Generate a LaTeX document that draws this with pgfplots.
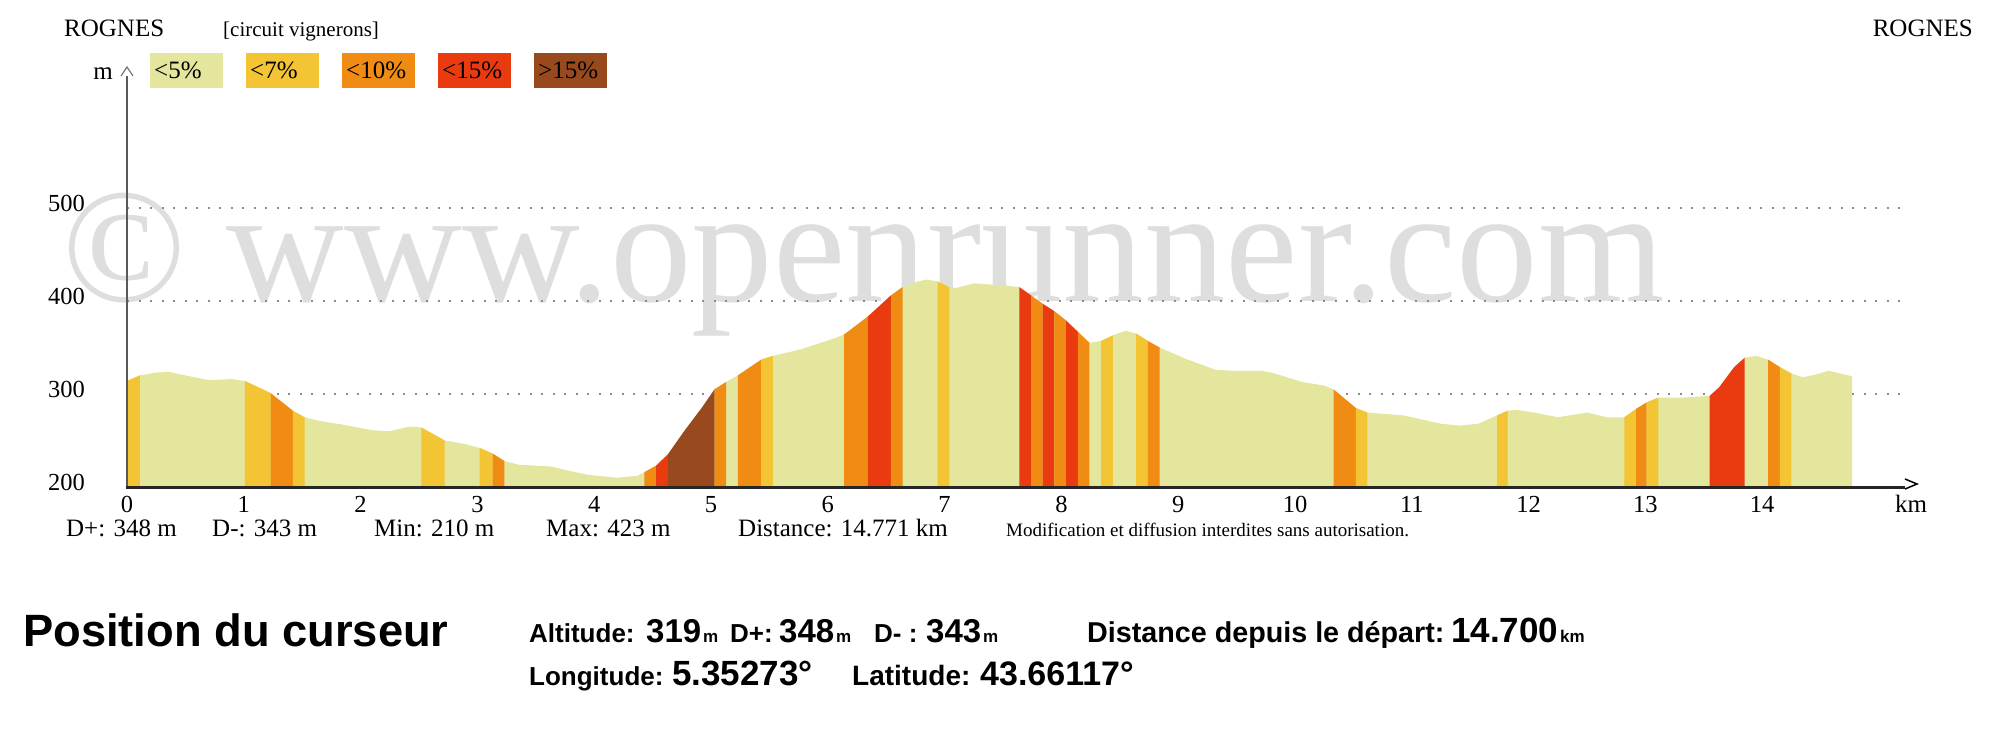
\documentclass[border=0pt]{standalone}
\usepackage{fontspec}
\setmainfont{Liberation Serif}
\newfontfamily\arial{Liberation Sans}
\usepackage{pgfplots}
\usepackage{pgfplotstable}
\pgfplotsset{compat=1.18}
\definecolor{cA}{HTML}{E3E69C}
\definecolor{cB}{HTML}{F3C434}
\definecolor{cC}{HTML}{F08C14}
\definecolor{cD}{HTML}{E93A10}
\definecolor{cE}{HTML}{984A1E}
\newcommand\fs[1]{\fontsize{#1bp}{#1bp}\selectfont}

\pgfplotstableread{
km alt
0.00 314
0.11 320
0.25 323
0.35 324
0.50 320
0.70 315
0.90 316
1.01 314
1.23 301
1.42 282
1.52 275
1.65 271
1.85 267
2.10 261
2.25 260
2.42 265
2.52 264
2.72 250
2.90 246
3.02 242
3.13 236
3.23 228
3.35 224
3.63 222
3.80 217
3.95 213
4.20 210
4.37 212
4.43 216
4.53 223
4.63 235
4.77 260
4.92 285
5.03 305
5.13 313
5.23 320
5.43 337
5.53 341
5.77 348
6.06 360
6.14 364
6.34 383
6.54 406
6.64 415
6.77 421
6.85 423
6.94 421
7.04 415
7.10 414
7.25 419
7.48 417
7.64 415
7.74 406
7.84 397
7.94 389
8.04 379
8.14 367
8.24 355
8.34 357
8.44 363
8.55 368
8.64 365
8.74 357
8.84 350
9.06 338
9.32 326
9.48 325
9.71 325
9.80 323
10.06 313
10.25 309
10.33 305
10.52 285
10.62 280
10.93 277
11.25 268
11.41 266
11.57 268
11.73 277
11.82 282
11.89 283
12.05 280
12.25 275
12.50 280
12.67 275
12.82 275
12.92 284
13.01 291
13.11 296
13.30 296
13.55 298
13.63 307
13.76 329
13.85 339
13.95 341
14.05 337
14.15 329
14.25 322
14.35 318
14.46 321
14.57 325
14.77 319
}\profile

\newcommand\band[3]{\addplot[draw=none, fill=#1, restrict x to domain=#2:#3] table[x=km,y=alt] {\profile} \closedcycle;}

\begin{document}
\begin{tikzpicture}[x=1bp,y=1bp]
\fill[white] (0,0) rectangle (2000,-730);
% watermark
\node[anchor=base west, inner sep=0, text=black!13] at (62,-301) {\fs{163}© www.openrunner.com};

\begin{axis}[
  at={(127bp,-487bp)}, anchor=south west,
  x=116.8bp, y=0.93bp,
  xmin=0, xmax=15.21, ymin=200, ymax=642,
  axis line style={draw=none},
  tick style={draw=none}, major tick length=0pt,
  xtick={0,...,14}, ytick={200,300,400,500},
  ymajorgrids,
  grid style={draw=black!45, line width=2bp, dash pattern=on 2bp off 9.5bp},
  /pgf/number format/assume math mode=true,
  xticklabel style={font=\fs{24.5}, anchor=base, inner sep=0pt, yshift=-25bp},
  yticklabel style={font=\fs{24.5}, anchor=base east, inner sep=0pt, xshift=-42bp, yshift=-3bp},
]
\addplot[draw=none, fill=cA] table[x=km,y=alt] {\profile} \closedcycle;
\band{cB}{-0.005}{0.115}
\band{cB}{1.005}{1.235}
\band{cC}{1.225}{1.425}
\band{cB}{1.415}{1.525}
\band{cB}{2.515}{2.725}
\band{cB}{3.015}{3.135}
\band{cC}{3.125}{3.235}
\band{cC}{4.425}{4.535}
\band{cD}{4.525}{4.635}
\band{cE}{4.625}{5.035}
\band{cC}{5.025}{5.135}
\band{cC}{5.225}{5.435}
\band{cB}{5.425}{5.535}
\band{cC}{6.135}{6.345}
\band{cD}{6.335}{6.545}
\band{cC}{6.535}{6.645}
\band{cB}{6.935}{7.045}
\band{cD}{7.635}{7.745}
\band{cC}{7.735}{7.845}
\band{cD}{7.835}{7.945}
\band{cC}{7.935}{8.045}
\band{cD}{8.035}{8.145}
\band{cC}{8.135}{8.245}
\band{cB}{8.335}{8.445}
\band{cB}{8.635}{8.745}
\band{cC}{8.735}{8.845}
\band{cC}{10.325}{10.525}
\band{cB}{10.515}{10.625}
\band{cB}{11.725}{11.825}
\band{cB}{12.815}{12.925}
\band{cC}{12.915}{13.015}
\band{cB}{13.005}{13.115}
\band{cD}{13.545}{13.855}
\band{cC}{14.045}{14.155}
\band{cB}{14.145}{14.255}
\end{axis}

% axis lines
\draw[line width=2.5, black!65] (127,-488) -- (127,-76);
\draw[line width=1.2, black!55] (121,-76) -- (127,-67) -- (133,-76);
\draw[line width=3, black!85] (125.5,-487.5) -- (1905,-487.5);
\draw[line width=1.5, black] (1905,-479) -- (1917,-484) -- (1905,-489);
\node[anchor=base west, inner sep=0] at (1895,-512) {\fs{25}km};
\node[anchor=base east, inner sep=0] at (113,-80) {\fs{25}m};

% header
\node[anchor=base west, inner sep=0] at (64,-37) {\fs{25}ROGNES};
\node[anchor=base west, inner sep=0] at (223,-37) {\fs{21}[circuit vignerons]};
\node[anchor=base east, inner sep=0] at (1973,-37) {\fs{25}ROGNES};

% legend boxes
\foreach \xx/\cc/\tt in {150/cA/{<5\%}, 246/cB/{<7\%}, 342/cC/{<10\%}, 438/cD/{<15\%}, 534/cE/{>15\%}}{
  \fill[\cc] (\xx,-53) rectangle ++(73,-35);
  \node[anchor=base west, inner sep=0] at (\xx+4,-79) {\fs{25}\tt};
}

% stats line
\node[anchor=base west, inner sep=0] at (66,-536) {\fs{25}D+: 348 m};
\node[anchor=base west, inner sep=0] at (212,-536) {\fs{25}D-: 343 m};
\node[anchor=base west, inner sep=0] at (374,-536) {\fs{25}Min: 210 m};
\node[anchor=base west, inner sep=0] at (546,-536) {\fs{25}Max: 423 m};
\node[anchor=base west, inner sep=0] at (738,-536) {\fs{25}Distance: 14.771 km};
\node[anchor=base west, inner sep=0] at (1006,-536) {\fs{19}Modification et diffusion interdites sans autorisation.};

% cursor box
\node[anchor=base west, inner sep=0] at (23,-646) {\arial\bfseries\fs{45.3}Position du curseur};
\begin{scope}[every node/.style={anchor=base west, inner sep=0}]
\node at (529,-642) {\arial\bfseries\fs{26}Altitude:};
\node at (646,-642) {\arial\bfseries\fs{33}319};
\node at (703,-642) {\arial\bfseries\fs{17}m};
\node at (730,-642) {\arial\bfseries\fs{26}D+:};
\node at (779,-642) {\arial\bfseries\fs{33}348};
\node at (836,-642) {\arial\bfseries\fs{17}m};
\node at (874,-642) {\arial\bfseries\fs{26}D- :};
\node at (926,-642) {\arial\bfseries\fs{33}343};
\node at (983,-642) {\arial\bfseries\fs{17}m};
\node at (1087,-642) {\arial\bfseries\fs{28.7}Distance depuis le départ:};
\node at (1451,-642) {\arial\bfseries\fs{35}14.700};
\node at (1560,-642) {\arial\bfseries\fs{17}km};
\node at (529,-685) {\arial\bfseries\fs{26}Longitude:};
\node at (672,-685) {\arial\bfseries\fs{35}5.35273°};
\node at (852,-685) {\arial\bfseries\fs{28}Latitude:};
\node at (980,-685) {\arial\bfseries\fs{34}43.66117°};
\end{scope}

\pgfresetboundingbox
\path (0,0) rectangle (2000,-730);
\end{tikzpicture}
\end{document}
